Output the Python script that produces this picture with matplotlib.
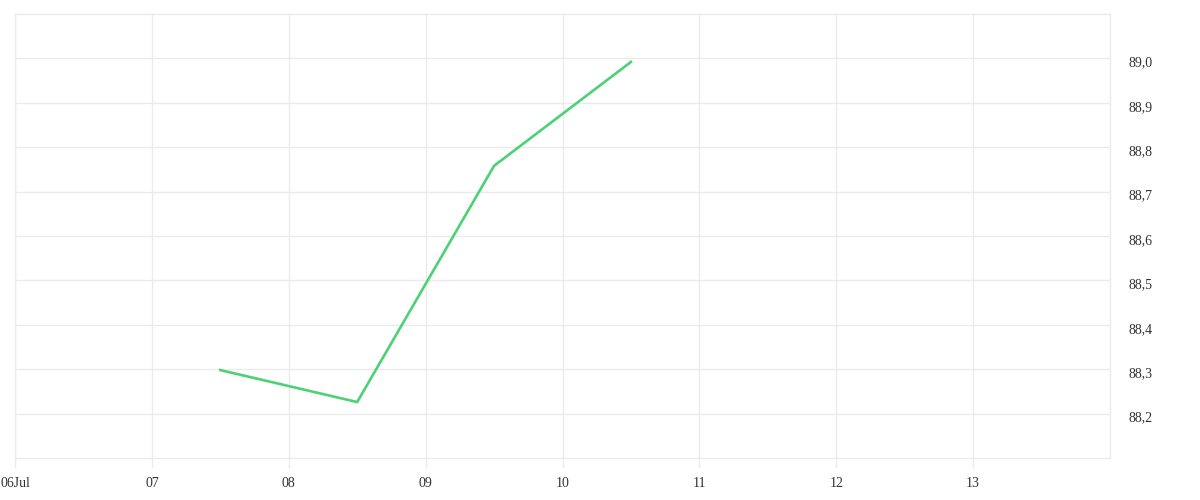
import datetime as dt
import matplotlib
matplotlib.use('Agg')
import matplotlib.pyplot as plt
import matplotlib.transforms as mtrans
from matplotlib.ticker import FuncFormatter

# data
dates = [dt.datetime(2024, 7, 7, 12), dt.datetime(2024, 7, 8, 12),
         dt.datetime(2024, 7, 9, 12), dt.datetime(2024, 7, 10, 12)]
values = [88.298, 88.226, 88.758, 88.992]

tick_days = [dt.datetime(2024, 7, d) for d in range(6, 14)]
tick_labels = ['06Jul', '07', '08', '09', '10', '11', '12', '13']
y_ticks = [88.2, 88.3, 88.4, 88.5, 88.6, 88.7, 88.8, 88.9, 89.0]

grid_col = '#ebebeb'
text_col = '#333333'

plt.rcParams['font.family'] = ['Liberation Serif', 'DejaVu Serif']

fig = plt.figure(figsize=(12, 5), dpi=100)
ax = fig.add_axes([15 / 1200, 42 / 500, 1095 / 1200, 444 / 500])

ax.plot(dates, values, color='#4cd274', lw=1.9)

ax.set_xlim(dt.datetime(2024, 7, 6), dt.datetime(2024, 7, 14))
ax.set_ylim(88.1, 89.1)

ax.set_xticks(tick_days)
ax.set_xticklabels(tick_labels)
ax.set_yticks(y_ticks)
ax.yaxis.set_major_formatter(FuncFormatter(lambda v, p: f'{v:.1f}'.replace('.', ',')))
ax.yaxis.tick_right()

ax.grid(True, color=grid_col, lw=1)
for s in ax.spines.values():
    s.set_color(grid_col)
    s.set_linewidth(1)

ax.tick_params(axis='x', length=7.5, width=1, color=grid_col, pad=6,
               labelsize=10, labelcolor=text_col)
ax.tick_params(axis='y', length=0, pad=13, labelsize=10, labelcolor=text_col)

# y labels sit a little below their grid lines in the reference
shift = mtrans.ScaledTranslation(0, -3 / 100, fig.dpi_scale_trans)
for lab in ax.get_yticklabels():
    lab.set_transform(lab.get_transform() + shift)

fig.savefig('out.png', dpi=100)
